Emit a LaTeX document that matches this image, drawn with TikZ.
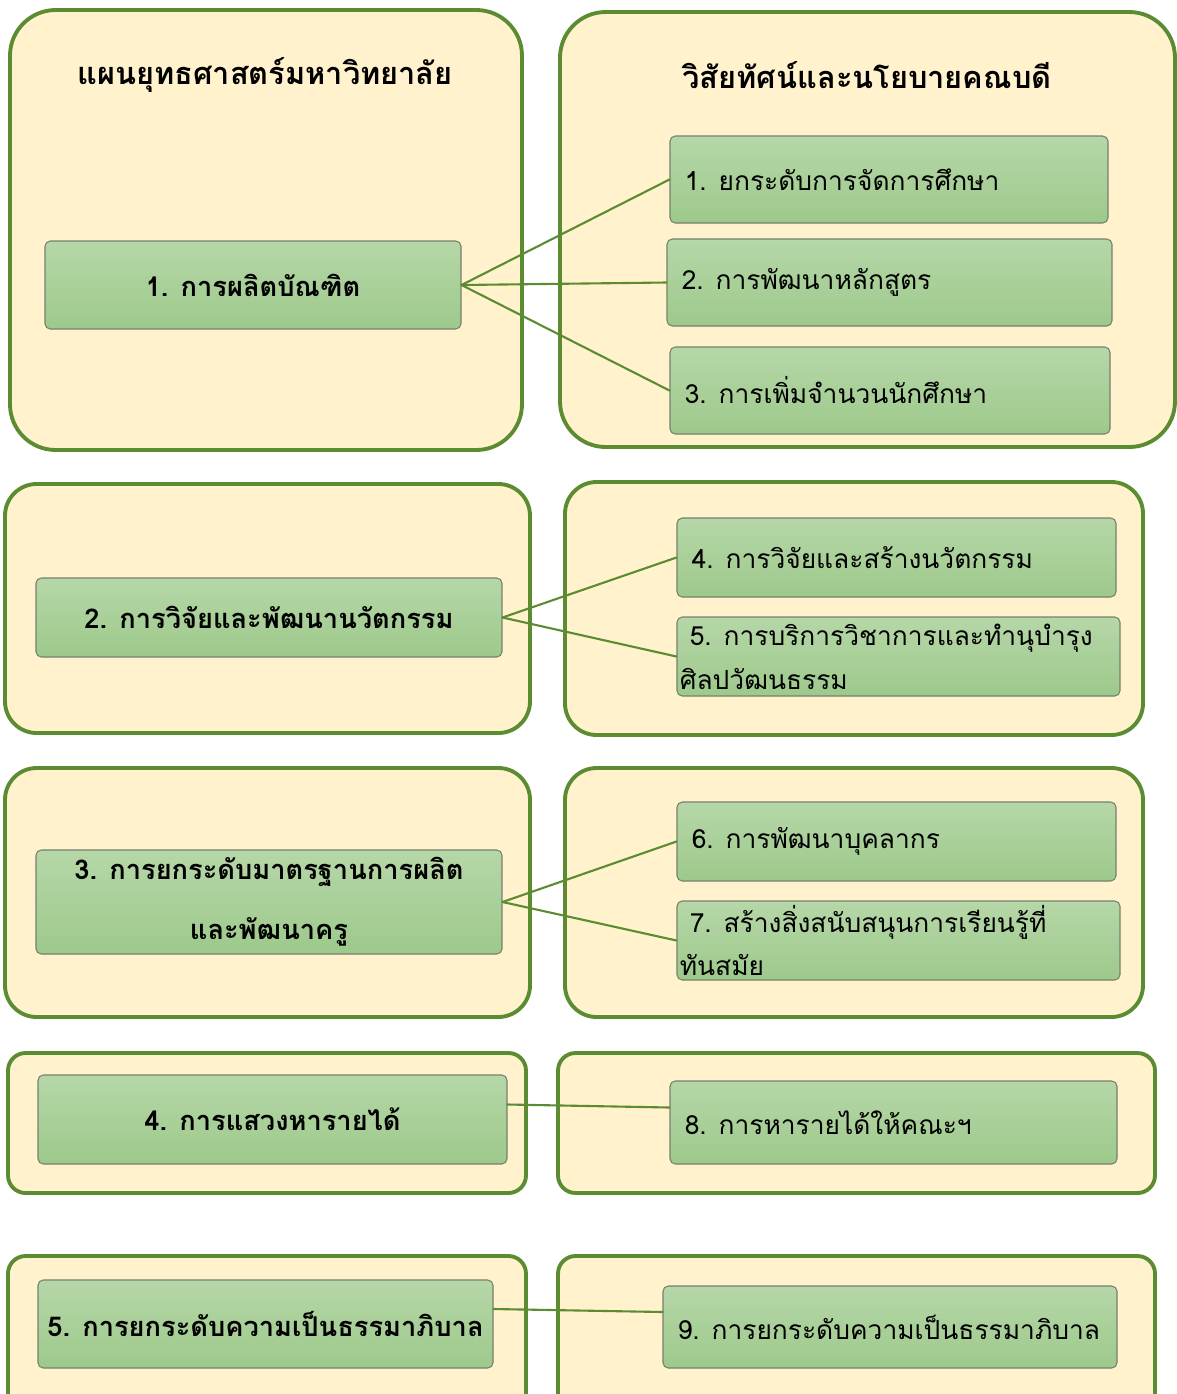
\documentclass[tikz,border=0pt]{standalone}
\usepackage{fontspec}
\setmainfont[Script=Thai]{Loma}
\usetikzlibrary{fit}
\definecolor{paper}{HTML}{FFF2CC}
\definecolor{frame}{HTML}{5B8C32}
\definecolor{edge}{HTML}{77806F}
\definecolor{itemtop}{HTML}{B6D7A8}
\definecolor{itembot}{HTML}{9DC98B}
\begin{document}
\begin{tikzpicture}[x=0.02cm, y=-0.02cm, line join=round, line cap=round,
	outer/.style={draw=frame, line width=2.2pt, fill=paper,
		rounded corners=#1, inner sep=0pt},
	outer/.default=22pt,
	item/.style={draw=edge, line width=0.6pt, top color=itemtop,
		bottom color=itembot, rounded corners=3pt, inner sep=0pt},
	head/.style={font=\fontsize{17.5}{20}\selectfont\bfseries},
	plan/.style={font=\fontsize{15.5}{34}\selectfont\bfseries, align=center},
	goal/.style={font=\fontsize{15}{25}\selectfont, align=left,
		anchor=west, inner sep=0pt},
	link/.style={draw=frame, line width=1.2pt}]
	\clip (0,0) rectangle (1177,1394);
	\useasboundingbox (0,0) rectangle (1177,1394);
	% outer frames
	\node[outer=26pt, fit={(10,10) (522,450)}] (P1) {};
	\node[outer=26pt, fit={(560,12) (1175,447)}] (V1) {};
	\node[outer=18pt, fit={(5,484) (530,733)}] (P2) {};
	\node[outer=18pt, fit={(565,482) (1143,735)}] (V2) {};
	\node[outer=18pt, fit={(5,768) (530,1017)}] (P3) {};
	\node[outer=18pt, fit={(565,768) (1143,1017)}] (V3) {};
	\node[outer=10pt, fit={(8,1053) (526,1193)}] (P4) {};
	\node[outer=10pt, fit={(558,1053) (1155,1193)}] (V4) {};
	\node[outer=10pt, fit={(8,1256) (526,1420)}] (P5) {};
	\node[outer=10pt, fit={(558,1256) (1155,1420)}] (V5) {};
	\node[head] (hP) at (265,75) {แผนยุทธศาสตร์มหาวิทยาลัย};
	\node[head] (hV) at (867,75) {วิสัยทัศน์และนโยบายคณบดี};
	% left items
	\node[item, fit={(45,241) (461,329)}] (b1) {};
	\node[item, fit={(36,578) (502,657)}] (b2) {};
	\node[item, fit={(36,850) (502,954)}] (b3) {};
	\node[item, fit={(38,1075) (507,1164)}] (b4) {};
	\node[item, fit={(38,1280) (493,1368)}] (b5) {};
	\node[plan] (t1) at (b1) {1. การผลิตบัณฑิต};
	\node[plan] (t2) at (b2) {2. การวิจัยและพัฒนานวัตกรรม};
	\node[plan] (t3) at (b3) {3. การยกระดับมาตรฐานการผลิต\\และพัฒนาครู};
	\node[plan] (t4) at (b4) {4. การแสวงหารายได้};
	\node[plan] (t5) at (b5) {5. การยกระดับความเป็นธรรมาภิบาล};
	% right items
	\node[item, fit={(670,136) (1108,223)}] (r1) {};
	\node[item, fit={(667,239) (1112,326)}] (r2) {};
	\node[item, fit={(670,347) (1110,434)}] (r3) {};
	\node[item, fit={(677,518) (1116,597)}] (r4) {};
	\node[item, fit={(677,617) (1120,696)}] (r5) {};
	\node[item, fit={(677,802) (1116,881)}] (r6) {};
	\node[item, fit={(677,901) (1120,980)}] (r7) {};
	\node[item, fit={(670,1081) (1117,1164)}] (r8) {};
	\node[item, fit={(663,1286) (1117,1368)}] (r9) {};
	\node[goal] (g1) at ([xshift=0.3cm]r1.west) {1. ยกระดับการจัดการศึกษา};
	\node[goal] (g2) at ([xshift=0.3cm]r2.west) {2. การพัฒนาหลักสูตร};
	\node[goal] (g3) at ([xshift=0.3cm]r3.west) {3. การเพิ่มจำนวนนักศึกษา};
	\node[goal] (g4) at ([xshift=0.3cm]r4.west) {4. การวิจัยและสร้างนวัตกรรม};
	\node[goal] (g5) at ([xshift=0.06cm]r5.west)
		{\hspace{0.2cm}5. การบริการวิชาการและทำนุบำรุง\\ศิลปวัฒนธรรม};
	\node[goal] (g6) at ([xshift=0.3cm]r6.west) {6. การพัฒนาบุคลากร};
	\node[goal] (g7) at ([xshift=0.06cm]r7.west)
		{\hspace{0.2cm}7. สร้างสิ่งสนับสนุนการเรียนรู้ที่\\ทันสมัย};
	\node[goal] (g8) at ([xshift=0.3cm]r8.west) {8. การหารายได้ให้คณะฯ};
	\node[goal] (g9) at ([xshift=0.3cm]r9.west) {9. การยกระดับความเป็นธรรมาภิบาล};
	% connectors
	\foreach \a/\b in {b1/r1,b1/r2,b1/r3,b2/r4,b2/r5,b3/r6,b3/r7}
	\draw[link] (\a.east) -- (\b.west);
	\draw[link] ([yshift=0.3cm]b4.east) -- ([yshift=0.3cm]r8.west);
	\draw[link] ([yshift=0.3cm]b5.east) -- ([yshift=0.3cm]r9.west);
\end{tikzpicture}
\end{document}
